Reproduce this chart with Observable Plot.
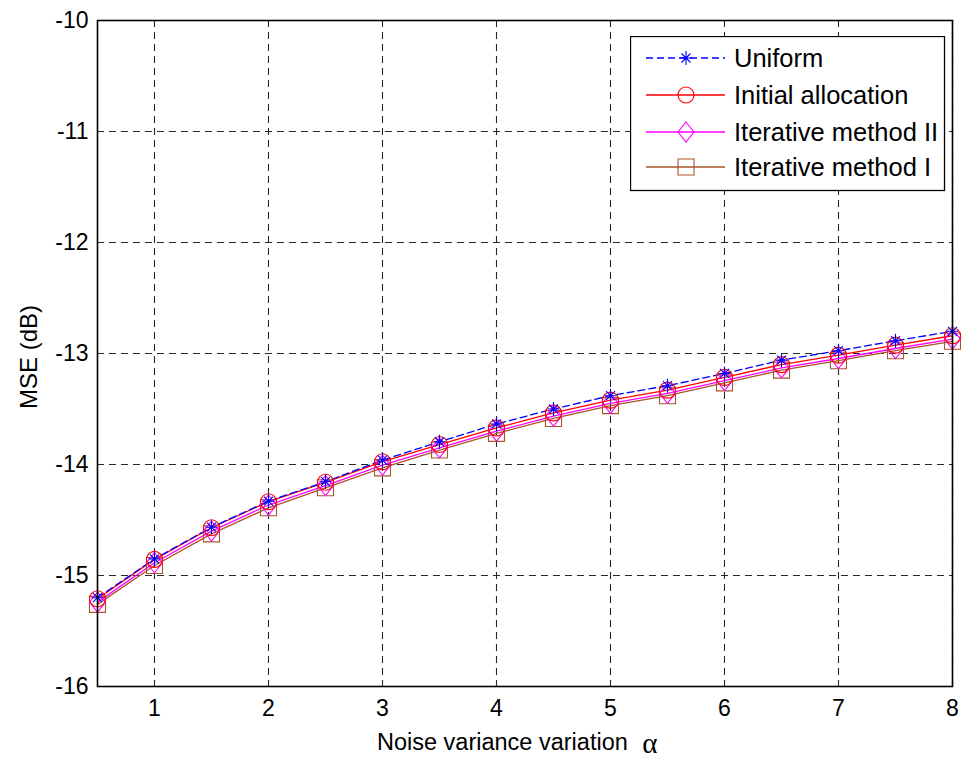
<!DOCTYPE html>
<html><head><meta charset="utf-8">
<script src="https://cdn.jsdelivr.net/npm/d3@7"></script>
<script src="https://cdn.jsdelivr.net/npm/@observablehq/plot@0.6"></script>
<style>
body{margin:0;background:#fff}
#wrap{position:relative;width:965px;height:758px;background:#fff}
#legend{position:absolute;left:630px;top:36px;z-index:2}
</style>
</head><body><div id="wrap"></div>
<script>
// ---- data ----
const alpha = [0.5,1,1.5,2,2.5,3,3.5,4,4.5,5,5.5,6,6.5,7,7.5,8];
const uniform      = [-15.20,-14.85,-14.565,-14.33,-14.155,-13.96,-13.795,-13.635,-13.50,-13.38,-13.29,-13.18,-13.06,-12.975,-12.885,-12.80];
const initialAlloc = [-15.21,-14.855,-14.57,-14.335,-14.16,-13.975,-13.82,-13.67,-13.535,-13.42,-13.33,-13.215,-13.10,-13.015,-12.925,-12.84];
const iterII       = [-15.24,-14.885,-14.60,-14.365,-14.19,-14.005,-13.85,-13.70,-13.565,-13.45,-13.36,-13.245,-13.13,-13.045,-12.955,-12.87];
const iterI        = [-15.26,-14.91,-14.625,-14.39,-14.21,-14.03,-13.87,-13.72,-13.585,-13.47,-13.38,-13.265,-13.15,-13.065,-12.975,-12.89];
const xTicks = [1,2,3,4,5,6,7,8];
const yTicks = [-16,-15,-14,-13,-12,-11,-10];
const seriesNames = ["Uniform","Initial allocation","Iterative method II","Iterative method I"];
const seriesColors = ["#0000ff","#ff0000","#ff00ff","#a8552a"];
const xLabel = "Noise variance variation ";
const xLabelGreek = "α";
const yLabel = "MSE (dB)";

// ---- marker shapes (MATLAB-like) ----
const starSym = {draw(c){c.moveTo(0,-7);c.lineTo(0,7);c.moveTo(-6,0);c.lineTo(6,0);
  c.moveTo(-4.5,-4.5);c.lineTo(4.5,4.5);c.moveTo(-4.5,4.5);c.lineTo(4.5,-4.5);}};
const circleSym = {draw(c){c.moveTo(8,0);c.arc(0,0,8,0,2*Math.PI);c.closePath();}};
const diamondSym = {draw(c){c.moveTo(0,-10);c.lineTo(8,0);c.lineTo(0,10);c.lineTo(-8,0);c.closePath();}};
const squareSym = {draw(c){c.moveTo(-8,-8);c.lineTo(8,-8);c.lineTo(8,8);c.lineTo(-8,8);c.closePath();}};
const symbols = [starSym, circleSym, diamondSym, squareSym];
const dashes = ["7,4", null, null, null];

const seriesValues = [uniform, initialAlloc, iterII, iterI];
const series = seriesNames.map((name,i)=>({
  name, color: seriesColors[i], sym: symbols[i], dash: dashes[i],
  rows: alpha.map((a,j)=>({x:a, y:seriesValues[i][j]}))
}));

const drawOrder = [3,2,1,0];
const marks = [
  Plot.gridX(xTicks, {stroke:"#111", strokeOpacity:0.9, strokeDasharray:"7,5", strokeWidth:1.1}),
  Plot.gridY(yTicks, {stroke:"#111", strokeOpacity:0.9, strokeDasharray:"7,5", strokeWidth:1.1}),
];
for (const i of drawOrder) {
  const s = series[i];
  marks.push(Plot.line(s.rows, {x:"x", y:"y", stroke:s.color, strokeWidth:1.3, strokeDasharray:s.dash || undefined}));
}
for (const i of drawOrder) {
  const s = series[i];
  marks.push(Plot.dot(s.rows, {x:"x", y:"y", symbol:()=>s.sym, r:8, fill:"none", stroke:s.color, strokeWidth:1.1}));
}
marks.push(Plot.frame({stroke:"#000", strokeWidth:1.6}));
marks.push(Plot.axisX(xTicks, {tickSize:0, tickPadding:13, tickFormat:d=>String(d), label:null}));
marks.push(Plot.axisY(yTicks, {tickSize:0, tickPadding:9, tickFormat:d=>String(d), label:null}));

const chart = Plot.plot({
  width:965, height:758,
  marginLeft:97, marginRight:13, marginTop:20, marginBottom:72,
  x:{domain:[0.5,8]}, y:{domain:[-16,-10]},
  style:{fontFamily:"'Liberation Sans', Arial, sans-serif", fontSize:"23px", background:"#fff", color:"#000", overflow:"visible"},
  marks
});
document.getElementById("wrap").appendChild(chart);

// axis titles
const svg = d3.select(chart);
const xt = svg.append("text").attr("x",377).attr("y",750).attr("text-anchor","start")
  .attr("font-family","'Liberation Sans', Arial, sans-serif").attr("font-size",23.5).attr("fill","#000");
xt.append("tspan").text(xLabel);
xt.append("tspan").attr("font-family","'Liberation Serif', 'DejaVu Serif', serif").attr("font-size",29).attr("dx",8).attr("dy",3).text(xLabelGreek);
svg.append("text").attr("transform","translate(37,357) rotate(-90)").attr("text-anchor","middle")
  .attr("font-family","'Liberation Sans', Arial, sans-serif").attr("font-size",24).attr("fill","#000").text(yLabel);

// legend
const lg = d3.select("#wrap").append("svg").attr("id","legend").attr("width",316).attr("height",156);
lg.append("rect").attr("x",0.5).attr("y",0.5).attr("width",314).attr("height",154).attr("fill","#fff").attr("stroke","#000").attr("stroke-width",1.3);
const rowY = [22,59,96,131];
series.forEach((s,i)=>{
  const g = lg.append("g").attr("transform",`translate(0,${rowY[i]})`);
  g.append("line").attr("x1",16).attr("x2",95).attr("y1",0).attr("y2",0).attr("stroke",s.color).attr("stroke-width",1.3)
    .attr("stroke-dasharray", s.dash || null);
  g.append("path").attr("transform","translate(56,0)").attr("d", d3.symbol(s.sym)()).attr("fill","none").attr("stroke",s.color).attr("stroke-width",1.1);
  g.append("text").attr("x",104).attr("y",0).attr("dy","0.36em").attr("font-family","'Liberation Sans', Arial, sans-serif")
    .attr("font-size",25.5).attr("fill","#000").text(s.name);
});
</script>
</body></html>
